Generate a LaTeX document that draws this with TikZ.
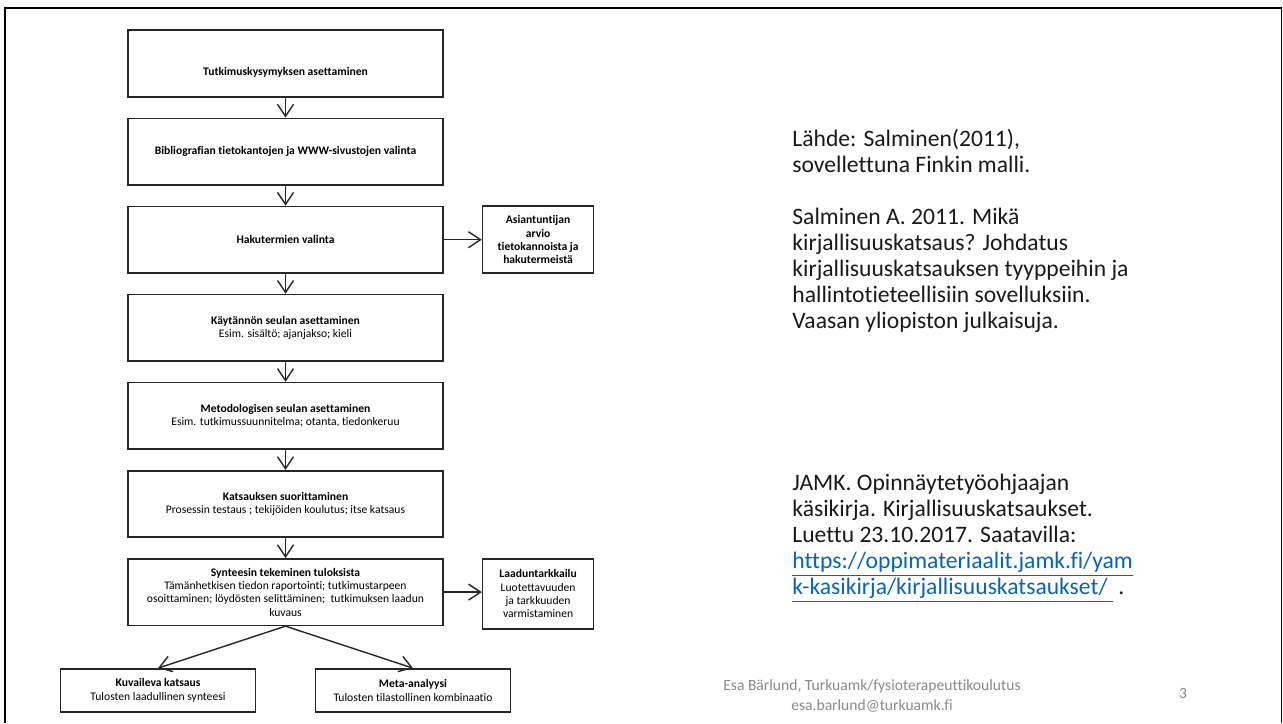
\documentclass[tikz,border=0pt]{standalone}
\usepackage{fontspec}
\setmainfont{Carlito}[Ligatures=NoCommon]
\usetikzlibrary{positioning,arrows.meta}
\definecolor{linkblue}{HTML}{0563C1}
\definecolor{footgray}{HTML}{898989}

\begin{document}
\begin{tikzpicture}[x=0.5pt, y=-0.5pt, node distance=10pt and 19pt,
  stepbox/.style={draw=black!85, line width=0.8pt, minimum width=157.5pt,
    minimum height=33.25pt, align=center, inner sep=2pt,
    font=\fontsize{5.8}{6.65}\selectfont},
  sidebox/.style={stepbox, minimum width=55.5pt, minimum height=33.5pt},
  endbox/.style={stepbox, minimum width=97.5pt, minimum height=21.5pt},
  boldtext/.style={font=\fontsize{5.8}{6.65}\selectfont\bfseries},
  flow/.style={-{Straight Barb[length=6pt,width=8pt]}, line width=0.7pt, black!85},
  ref/.style={anchor=north west, align=left, inner sep=0pt, text=black!90,
    font=\fontsize{11.8}{13}\selectfont}]
\useasboundingbox (0,0) rectangle (1283,723);
% slide frame
\draw[line width=1.2pt] (5,723) -- (5,8) -- (1281.5,8);
\draw[line width=0.5pt] (1281.5,8) -- (1281.5,723);

% main column
\node[stepbox, boldtext, text height=13pt, text depth=1.4pt] (kysymys) at (285.5,63.5) {Tutkimuskysymyksen asettaminen};
\node[stepbox, boldtext, below=of kysymys] (tietokannat) {Bibliografian tietokantojen ja WWW-sivustojen valinta};
\node[stepbox, boldtext, below=of tietokannat] (hakutermit) {Hakutermien valinta};
\node[stepbox, below=of hakutermit] (kaytanto) {\textbf{Käytännön seulan asettaminen}\\Esim. sisältö; ajanjakso; kieli};
\node[stepbox, below=of kaytanto] (metodi) {\textbf{Metodologisen seulan asettaminen}\\Esim. tutkimussuunnitelma; otanta, tiedonkeruu};
\node[stepbox, below=of metodi] (suoritus) {\textbf{Katsauksen suorittaminen}\\Prosessin testaus ; tekijöiden koulutus; itse katsaus};
\node[stepbox, below=of suoritus] (synteesi) {\textbf{Synteesin tekeminen tuloksista}\\Tämänhetkisen tiedon raportointi; tutkimustarpeen\\osoittaminen; löydösten selittäminen;~ tutkimuksen laadun\\kuvaus};

% side boxes
\node[sidebox, boldtext, right=of hakutermit] (asiantuntija) {Asiantuntijan\\arvio\\tietokannoista ja\\hakutermeistä};
\node[sidebox, minimum height=35pt, below right=0pt and 19pt of synteesi.north east] (laatu) {\textbf{Laaduntarkkailu}\\Luotettavuuden\\ja tarkkuuden\\varmistaminen};

% end boxes
\node[endbox, below=21pt of synteesi.south, xshift=-63.75pt] (kuvaileva) {\textbf{Kuvaileva katsaus}\\Tulosten laadullinen synteesi};
\node[endbox, below=21pt of synteesi.south, xshift=63.75pt] (meta) {\textbf{Meta-analyysi}\\Tulosten tilastollinen kombinaatio};

\foreach \a/\b in {kysymys/tietokannat, tietokannat/hakutermit, hakutermit/kaytanto,
  kaytanto/metodi, metodi/suoritus, suoritus/synteesi}
  \draw[flow] (\a) -- (\b);
\draw[flow] (hakutermit) -- (asiantuntija);
\draw[flow] (synteesi.east) -- (synteesi.east -| laatu.west);
\draw[flow] (synteesi.south) -- (kuvaileva.north);
\draw[flow] (synteesi.south) -- (meta.north);

% references
\node[ref] (lahde) at (792,128.5) {Lähde: Salminen(2011),\\sovellettuna Finkin malli.\\[13pt]Salminen A. 2011. Mikä\\kirjallisuuskatsaus? Johdatus\\kirjallisuuskatsauksen tyyppeihin ja\\hallintotieteellisiin sovelluksiin.\\Vaasan yliopiston julkaisuja.};
\node[ref] (jamk) at (792,474) {JAMK. Opinnäytetyöohjaajan\\käsikirja. Kirjallisuuskatsaukset.\\Luettu 23.10.2017. Saatavilla:\\\textcolor{linkblue}{\underline{https://oppimateriaalit.jamk.fi/yam}}\\\textcolor{linkblue}{\underline{k-kasikirja/kirjallisuuskatsaukset/\ }}\ .};

% footer
\node[anchor=north, align=center, inner sep=0pt, text=footgray, font=\fontsize{7.8}{10}\selectfont] (tekija) at (872,679) {Esa Bärlund, Turkuamk/fysioterapeuttikoulutus\\esa.barlund@turkuamk.fi};
\node[anchor=base, inner sep=0pt, text=footgray, font=\fontsize{7.8}{10}\selectfont] (sivu) at (1183,698) {3};
\end{tikzpicture}
\end{document}
